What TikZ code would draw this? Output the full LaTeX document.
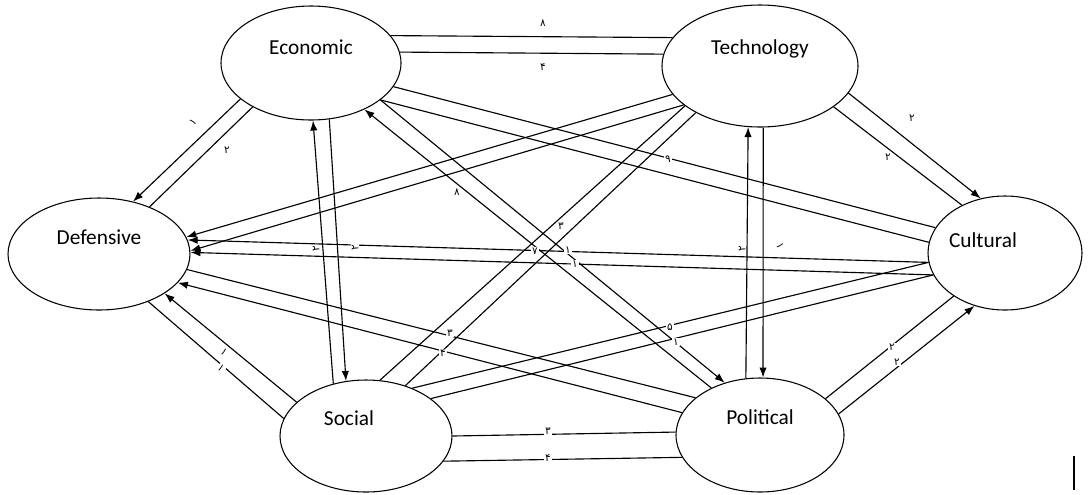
\documentclass[tikz,border=0pt]{standalone}
\usepackage{fontspec}
\setmainfont{Carlito}
\newfontfamily\digitfont[Script=Arabic]{DejaVu Sans}
\usetikzlibrary{arrows.meta,shapes.geometric}

\begin{document}
\begin{tikzpicture}[x=0.75pt,y=-0.75pt,
  stage/.style={draw, ellipse, line width=0.8pt, inner sep=0pt},
  link/.style={line width=0.85pt},
  tip/.style={-{Latex[length=7.5pt,width=5.5pt]}},
  num/.style={font=\digitfont\fontsize{7.8}{9}\selectfont, fill=white, inner sep=0.8pt},
  title/.style={font=\fontsize{16}{19}\selectfont}]
\useasboundingbox (0,0) rectangle (1091,494);

% the six fields
\node[stage, minimum width=135pt, minimum height=85.5pt,
  label={[title, name=eco-t, yshift=12pt]center:Economic}] (eco) at (311,63) {};
\node[stage, minimum width=147pt, minimum height=91.5pt,
  label={[title, name=tech-t, yshift=13pt]center:Technology}] (tech) at (760,66) {};
\node[stage, minimum width=136.5pt, minimum height=84pt,
  label={[title, name=def-t, yshift=12.5pt]center:Defensive}] (def) at (99,254) {};
\node[stage, minimum width=115.5pt, minimum height=85.5pt,
  label={[title, name=cul-t, xshift=-16.5pt, yshift=10pt]center:Cultural}] (cul) at (1005,253) {};
\node[stage, minimum width=129pt, minimum height=84pt,
  label={[title, name=soc-t, xshift=-12.75pt, yshift=13.5pt]center:Social}] (soc) at (366,436) {};
\node[stage, minimum width=126pt, minimum height=85.5pt,
  label={[title, name=pol-t, yshift=13.5pt]center:Political}] (pol) at (760,435) {};

% Economic -- Technology
\draw[link] (eco.19) -- (tech.162);
\draw[link] (eco.7) -- (tech.173);
% Economic -- Defensive
\draw[link,tip] (eco.207) -- (def.57);
\draw[link] (eco.217) -- (def.43);
% Economic -- Social
\draw[link,tip] (soc.122) -- (eco.-88);
\draw[link,tip] (eco.-72) -- (soc.110);
% Economic -- Political
\draw[link,tip] (pol.136) -- (eco.-41);
\draw[link,tip] (eco.-28) -- (pol.124);
% Economic -- Cultural
\draw[link] (eco.-16) -- (cul.160);
\draw[link] (eco.-28) -- (cul.172);
% Technology -- Defensive
\draw[link,tip] (tech.198) -- (def.11);
\draw[link,tip] (tech.207) -- (def.2);
% Technology -- Social
\draw[link] (tech.208) -- (soc.76);
\draw[link] (tech.216) -- (soc.52);
% Technology -- Political
\draw[link,tip] (pol.104) -- (tech.-101);
\draw[link,tip] (tech.-87) -- (pol.87);
% Technology -- Cultural
\draw[link,tip] (tech.-17) -- (cul.114);
\draw[link] (tech.-29) -- (cul.132);
% Cultural -- Defensive
\draw[link,tip] (cul.187) -- (def.9);
\draw[link,tip] (cul.197) -- (def.1);
% Defensive -- Social
\draw[link] (def.-44) -- (soc.168);
\draw[link,tip] (soc.154) -- (def.-31);
% Defensive -- Political
\draw[link] (def.-10) -- (pol.150);
\draw[link,tip] (pol.164) -- (def.-20);
% Cultural -- Social
\draw[link] (cul.187) -- (soc.46);
\draw[link] (cul.197) -- (soc.30);
% Cultural -- Political
\draw[link] (cul.220) -- (pol.29);
\draw[link,tip] (pol.15) -- (cul.240);
% Social -- Political
\draw[link] (soc.0) -- (pol.178);
\draw[link] (soc.-18) -- (pol.196);

% weights written on the links
\node[num] (w1) at (543,23) {۸};
\node[num] (w2) at (543,67) {۴};
\node[num, rotate=45] (w3) at (193,122) {۱};
\node[num] (w4) at (227,150) {۲};
\node[num, rotate=90] (w5) at (316,249) {۲};
\node[num, rotate=90] (w6) at (355,248) {۲};
\node[num, rotate=90] (w7) at (742,249) {۲};
\node[num, rotate=-70] (w8) at (780,246) {۱};
\node[num] (w9) at (912,118) {۲};
\node[num] (w10) at (888,157) {۲};
\node[num] (w11) at (668,159) {۹};
\node[num] (w12) at (457,192) {۸};
\node[num] (w13) at (561,226) {۳};
\node[num] (w14) at (535,251) {۷};
\node[num] (w15) at (568,250) {۱};
\node[num] (w16) at (575,264) {۱};
\node[num] (w17) at (450,333) {۳};
\node[num] (w18) at (443,353) {۴};
\node[num] (w19) at (670,327) {۵};
\node[num] (w20) at (676,342) {۱};
\node[num] (w21) at (548,431) {۳};
\node[num] (w22) at (548,458) {۴};
\node[num] (w23) at (892,347) {۲};
\node[num] (w24) at (897,362) {۲};
\node[num, rotate=-45] (w25) at (224,352) {۱};
\node[num, rotate=-45] (w26) at (221,368) {۱};

% text cursor left at the lower right
\node[fill=black, inner sep=0pt, minimum width=2.2pt, minimum height=25pt] (bar) at (1074,473) {};
\end{tikzpicture}
\end{document}
